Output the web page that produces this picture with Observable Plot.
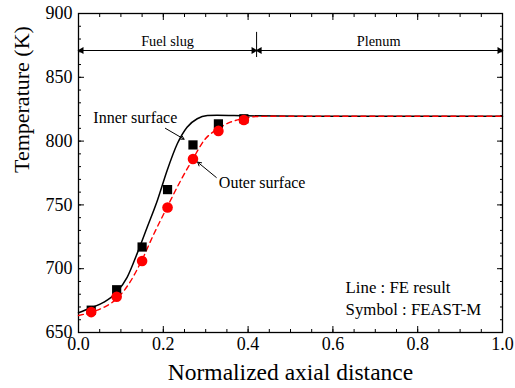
<!DOCTYPE html>
<html>
<head>
<meta charset="utf-8">
<script src="https://cdn.jsdelivr.net/npm/d3@7"></script>
<script src="https://cdn.jsdelivr.net/npm/@observablehq/plot@0.6"></script>
<style>
  html, body { margin: 0; padding: 0; background: #fff; }
  #chart svg { display: block; font-family: 'Liberation Serif', 'Times New Roman', serif; }
  #chart svg text { font-family: 'Liberation Serif', 'Times New Roman', serif; }
</style>
</head>
<body>
<div id="chart"></div>
<script>
// ---- data ----
const symX = [0.03, 0.09, 0.15, 0.21, 0.27, 0.33, 0.39];
const innerSym = [667.5, 683.5, 717, 762, 797, 813.5, 817.5];
const outerSym = [666, 678, 706, 748, 786, 808, 816.5];

const innerLineX = [0, 0.03, 0.06, 0.09, 0.115, 0.138, 0.162, 0.186, 0.209, 0.233, 0.256, 0.28, 0.304, 0.327, 0.4, 0.6, 0.8, 1.0];
const innerLineY = [665.5, 669.4, 673.8, 681.6, 693.4, 711.6, 732.5, 753.5, 777, 797.9, 810.9, 817.5, 820, 820.3, 819.8, 819.5, 819.5, 819.5];

const outerLineX = [0, 0.03, 0.06, 0.09, 0.119, 0.149, 0.178, 0.209, 0.241, 0.27, 0.296, 0.329, 0.358, 0.388, 0.421, 0.5, 1.0];
const outerLineY = [663.3, 665.9, 669.8, 676.4, 688.2, 706.4, 727.4, 748.2, 769.1, 786.1, 800.5, 809.6, 814.8, 817.5, 819.3, 819.5, 819.5];

const xMajor = [0, 0.2, 0.4, 0.6, 0.8, 1.0];
const xMinor = d3.range(0, 1.0001, 0.05).map(v => +v.toFixed(2));
const yMajor = [650, 700, 750, 800, 850, 900];
const yMinor = d3.range(650, 901, 10);

const xTitle = "Normalized axial distance";
const yTitle = "Temperature (K)";
const regionLabels = ["Fuel slug", "Plenum"];
const seriesLabels = ["Inner surface", "Outer surface"];
const legendLines = ["Line : FE result", "Symbol : FEAST-M"];
const slugEnd = 0.42;

// ---- derived tables ----
const innerPts = symX.map((x, i) => ({x, y: innerSym[i]}));
const outerPts = symX.map((x, i) => ({x, y: outerSym[i]}));
const innerLine = innerLineX.map((x, i) => ({x, y: innerLineY[i]}));
const outerLine = outerLineX.map((x, i) => ({x, y: outerLineY[i]}));

const font = "'Liberation Serif', 'Times New Roman', serif";
const arrowY = 871;

const chart = Plot.plot({
  width: 515,
  height: 388,
  marginLeft: 78,
  marginRight: 13,
  marginTop: 13,
  marginBottom: 56,
  style: {fontFamily: font, color: "black", background: "white"},
  x: {domain: [0, 1]},
  y: {domain: [650, 900]},
  marks: [
    // minor ticks
    Plot.axisX(xMinor, {anchor: "bottom", tickSize: -3, fill: "none", label: null}),
    Plot.axisX(xMinor, {anchor: "top", tickSize: -3, fill: "none", label: null}),
    Plot.axisY(yMinor, {anchor: "left", tickSize: -3, fill: "none", label: null}),
    Plot.axisY(yMinor, {anchor: "right", tickSize: -3, fill: "none", label: null}),
    // major ticks
    Plot.axisX(xMajor, {anchor: "bottom", tickSize: -6, tickPadding: 11, fontSize: 18, fontFamily: font, tickFormat: d3.format(".1f"), label: null}),
    Plot.axisX(xMajor, {anchor: "top", tickSize: -6, fill: "none", label: null}),
    Plot.axisY(yMajor, {anchor: "left", tickSize: -6, tickPadding: 12, fontSize: 18, fontFamily: font, label: null}),
    Plot.axisY(yMajor, {anchor: "right", tickSize: -6, fill: "none", label: null}),
    Plot.frame({stroke: "black", strokeWidth: 1.3}),
    // axis titles
    Plot.text([xTitle], {frameAnchor: "bottom", dy: 47, text: d => d, fontSize: 23.5, fontFamily: font}),
    Plot.text([yTitle], {frameAnchor: "left", dx: -57, rotate: -90, text: d => d, fontSize: 22, fontFamily: font}),
    // region annotation
    Plot.link([{x1: 0, x2: slugEnd}, {x1: slugEnd, x2: 1}], {x1: "x1", x2: "x2", y1: arrowY, y2: arrowY, stroke: "black", strokeWidth: 1}),
    Plot.dot([0, slugEnd], {x: d => d, y: arrowY, symbol: "triangle", r: 2.6, rotate: -90, fill: "black", dx: 3}),
    Plot.dot([slugEnd, 1], {x: d => d, y: arrowY, symbol: "triangle", r: 2.6, rotate: 90, fill: "black", dx: -3}),
    Plot.ruleX([slugEnd], {y1: 865.5, y2: 885.2, stroke: "black", strokeWidth: 1}),
    Plot.text(regionLabels, {x: [0.21, 0.708], y: 878.5, text: d => d, fontSize: 14.3, fontFamily: font}),
    // FE result lines
    Plot.line(innerLine, {x: "x", y: "y", curve: "monotone-x", stroke: "black", strokeWidth: 1.5}),
    Plot.line(outerLine, {x: "x", y: "y", curve: "monotone-x", stroke: "#ff0000", strokeWidth: 1.4, strokeDasharray: "5,4"}),
    // FEAST-M symbols
    Plot.dot(innerPts, {x: "x", y: "y", symbol: "square", r: 5.2, fill: "black"}),
    Plot.dot(outerPts, {x: "x", y: "y", symbol: "circle", r: 5.3, fill: "#ff0000"}),
    // series annotations
    Plot.text([seriesLabels[0]], {x: 0.134, y: 818.5, text: d => d, fontSize: 16, fontFamily: font}),
    Plot.arrow([0], {x1: 0.205, y1: 810, x2: 0.249, y2: 801.5, stroke: "black", strokeWidth: 1, headLength: 5}),
    Plot.text([seriesLabels[1]], {x: 0.331, y: 767, text: d => d, fontSize: 16, fontFamily: font, textAnchor: "start"}),
    Plot.arrow([0], {x1: 0.325, y1: 771.5, x2: 0.281, y2: 783.5, stroke: "black", strokeWidth: 1, headLength: 6}),
    // legend note
    Plot.text([legendLines[0]], {x: 0.630, y: 685.5, text: d => d, fontSize: 16.8, fontFamily: font, textAnchor: "start"}),
    Plot.text([legendLines[1]], {x: 0.630, y: 667.8, text: d => d, fontSize: 16.8, fontFamily: font, textAnchor: "start"})
  ]
});

document.getElementById("chart").appendChild(chart);
</script>
</body>
</html>
